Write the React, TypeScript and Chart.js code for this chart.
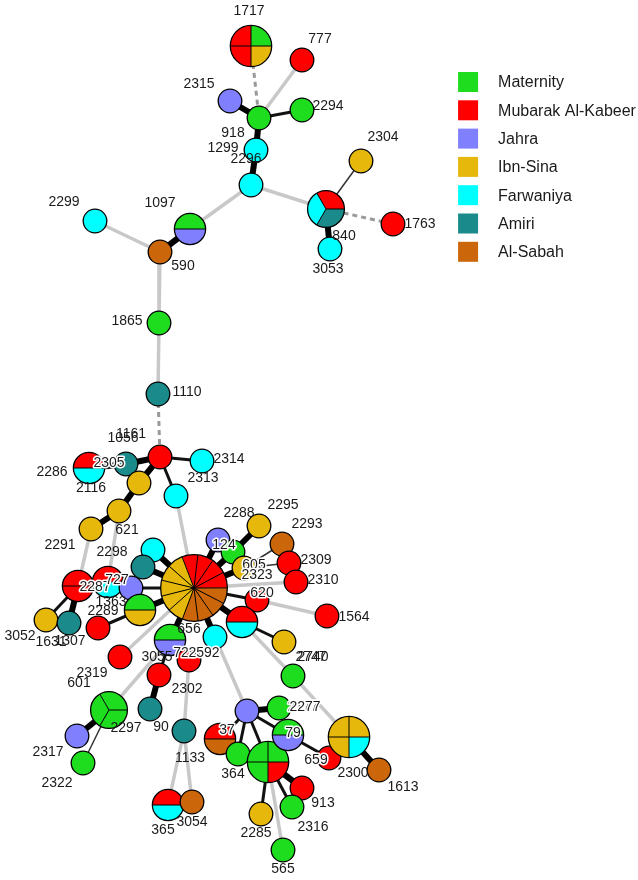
import React, { useEffect, useRef } from 'react';
import { Chart, registerables } from 'chart.js';
Chart.register(...registerables);

// ---------- DATA ----------
const categories = ['Maternity', 'Mubarak Al-Kabeer', 'Jahra', 'Ibn-Sina', 'Farwaniya', 'Amiri', 'Al-Sabah'];
const categoryColors = ['#1EDC1E', '#FF0000', '#8080FF', '#E6B80C', '#00FFFF', '#1A8A8A', '#CC660A'];

// node keys, layout coordinates, and hospital of each isolate in the node
const nodeKeys = [
  '1717', '777', '2315', '918', '2294', '1299', '2296', '840', '2304', '1763',
  '3053', '1097', '590', '2299', '1865', '1110', '1161', '2305', '2286', '2314',
  '2313', 'g1', '621', 'g3', 'hub', '2287', '727', '1363', 'c1', 't1',
  'gg', '2289', '3052', '1307', '124', 'm124', '2295', '2293', '2309', '2310',
  '605', '620', '1564', 'rc', '2747', 'm2747', 'c592', '656', '725', 'r2319',
  '3055', '90', '1133', '2297', '2317', '2322', '365', '3054', 'p', '2277',
  '37', '364', 'bg', '79', '659', '2300', '1613', '913', '2316', '2285', '565',
];
const nodeX = [
  251, 302, 230, 259, 302, 256, 251, 326, 361, 393,
  330, 190, 160, 95, 159, 158, 160, 126, 89, 202,
  176, 139, 119, 91, 194, 78, 108, 131, 153, 143,
  140, 98, 46, 69, 218, 233, 259, 282, 289, 296,
  244, 257, 327, 242, 284, 293, 215, 170, 189, 120,
  159, 150, 184, 109, 77, 83, 168, 192, 247, 279,
  220, 238, 268, 288, 329, 349, 379, 302, 292, 261, 283,
];
const nodeY = [
  46, 60, 101, 118, 110, 150, 185, 209, 161, 224,
  249, 229, 252, 221, 323, 394, 457, 464, 468, 461,
  496, 483, 511, 529, 588, 586, 582, 588, 550, 567,
  610, 628, 620, 623, 540, 552, 526, 544, 563, 582,
  568, 600, 616, 622, 642, 676, 637, 640, 660, 657,
  675, 709, 731, 710, 736, 763, 805, 802, 711, 708,
  739, 754, 762, 735, 758, 737, 770, 788, 807, 814, 850,
];
const nodeIsolates: number[][] = [
  [0, 3, 1, 1], [1], [2], [0], [0], [4], [4], [5, 4, 1], [3], [1],
  [4], [2, 0], [6], [4], [0], [5], [1], [5], [4, 1], [4],
  [4], [3], [3], [3], [1, 1, 1, 1, 6, 6, 6, 6, 3, 3, 3, 3, 3], [1, 1], [4, 1], [2], [4], [5],
  [3, 0], [1], [3], [5], [2], [0], [3], [6], [1], [1],
  [3], [1], [1], [4, 1], [3], [0], [4], [2, 0], [1], [1],
  [1], [5], [5], [0, 0, 0], [2], [0], [4, 1], [6], [2], [0],
  [6, 1], [0], [0, 1, 0, 0], [2, 0], [1], [3, 4, 3, 3], [6], [1], [0], [3], [0],
];

// edges: from, to, link type
const edgeFrom = [
  '1717', '777', '2315', '918', '918', '1299', '2296', '2296', '840', '840',
  '840', '1097', '590', '590', '1865', '1110', '1161', '2305', '1161', 'g1',
  '621', '1161', '1161', '2313', 'g3', '621', '2287', '2287', '2287', 'hub',
  '1363', 'hub', 'hub', 'hub', 'gg', 'hub', 'hub', 'm124', 'hub', '605',
  '605', 'hub', 'hub', '620', 'hub', 'rc', 'rc', 'm2747', 'hub', 'hub',
  '656', '656', 'hub', '656', '3055', '725', '1133', '1133', '2297', '2297',
  'c592', 'p', 'p', 'p', 'p', 'p', '79', '659', '2300', 'bg',
  'bg', 'bg', 'bg',
];
const edgeTo = [
  '918', '918', '918', '2294', '1299', '2296', '1097', '840', '2304', '1763',
  '3053', '590', '2299', '1865', '1110', '1161', '2305', '2286', 'g1', '621',
  'g3', '2314', '2313', 'hub', '2287', '727', '727', '3052', '1307', '1363',
  '727', 'c1', 't1', 'gg', '2289', '124', 'm124', '2295', '605', '2293',
  '2309', '2310', '620', '1564', 'rc', '2747', 'm2747', '2300', 'c592', '656',
  '725', '3055', 'r2319', '2297', '90', '1133', '365', '3054', '2317', '2322',
  'p', '2277', '37', '364', 'bg', '79', '659', '2300', '1613', '913',
  '2316', '2285', '565',
];
const edgeKind = [
  'dashed', 'far', 'strong', 'medium', 'strong', 'strong', 'far', 'far', 'weak', 'dashed',
  'strong', 'strong', 'far', 'far', 'far', 'dashed', 'strong', 'strong', 'strong', 'strong',
  'strong', 'medium', 'medium', 'far', 'far', 'far', 'strong', 'medium', 'strong', 'medium',
  'medium', 'strong', 'strong', 'strong', 'medium', 'strong', 'strong', 'strong', 'strong', 'weak',
  'weak', 'far', 'medium', 'far', 'strong', 'medium', 'far', 'far', 'strong', 'strong',
  'weak', 'medium', 'far', 'far', 'strong', 'far', 'far', 'far', 'strong', 'weak',
  'far', 'strong', 'medium', 'medium', 'medium', 'medium', 'medium', 'medium', 'strong', 'strong',
  'medium', 'medium', 'far',
];

// node labels
const labelText = [
  '1717', '777', '2315', '2294', '918', '1299', '2296', '2304', '840', '1763',
  '3053', '1097', '590', '2299', '1865', '1110', '1161', '1056', '2305', '2286',
  '2116', '2314', '2313', '621', '2291', '2298', '2287', '727', '1363', '2289',
  '3052', '1631', '1307', '124', '2288', '2295', '2293', '2309', '2310', '605',
  '2323', '620', '1564', '2740', '2747', '656', '725', '2592', '3055', '2302',
  '2319', '601', '2297', '90', '1133', '2317', '2322', '365', '3054', '2177',
  '2277', '37', '79', '364', '659', '2300', '1613', '913', '2316', '2285', '565',
];
const labelX = [
  249, 320, 199, 328, 233, 223, 246, 383, 344, 420,
  328, 160, 183, 64, 127, 187, 131, 123, 109, 52,
  91, 229, 203, 127, 60, 112, 95, 117, 111, 103,
  20, 51, 70, 224, 239, 283, 307, 316, 323, 254,
  257, 262, 354, 313, 311, 189, 185, 204, 157, 187,
  92, 79, 126, 161, 190, 48, 57, 163, 192, 303,
  305, 227, 293, 233, 316, 353, 403, 323, 313, 256, 283,
];
const labelY = [
  11, 39, 84, 106, 133, 148, 159, 137, 236, 224,
  269, 203, 266, 202, 321, 392, 434, 438, 463, 472,
  488, 459, 478, 530, 545, 552, 587, 580, 602, 611,
  636, 642, 641, 545, 513, 505, 524, 560, 580, 565,
  575, 593, 617, 657, 657, 629, 653, 653, 657, 689,
  673, 683, 728, 727, 758, 752, 783, 830, 822, 707,
  707, 730, 733, 774, 760, 773, 787, 803, 827, 833, 869,
];
const labelHalo = [
  0, 0, 0, 0, 0, 0, 0, 0, 0, 0,
  0, 0, 0, 0, 0, 0, 0, 0, 1, 0,
  0, 0, 0, 0, 0, 0, 1, 1, 0, 0,
  0, 0, 0, 1, 0, 0, 0, 0, 0, 1,
  1, 1, 0, 0, 0, 0, 1, 1, 0, 0,
  0, 0, 0, 0, 0, 0, 0, 0, 0, 1,
  1, 1, 1, 0, 1, 0, 0, 0, 0, 0, 0,
];

// ---------- STYLES ----------
const edgeStyles: Record<string, { color: string; width: number; dash: number[] }> = {
  strong: { color: '#000000', width: 6, dash: [] },
  medium: { color: '#111111', width: 3, dash: [] },
  weak: { color: '#333333', width: 1.5, dash: [] },
  far: { color: '#C8C8C8', width: 3.5, dash: [] },
  dashed: { color: '#9A9A9A', width: 3, dash: [5, 4] },
};
const FONT = '"Liberation Sans", Arial, Helvetica, sans-serif';

function radiusFor(n: number) {
  return 11.8 * Math.pow(n, 0.405);
}
function startAngleFor(n: number) {
  if (n === 4) return -90;
  if (n > 4) return -111;
  return 0;
}

const netPlugin = {
  id: 'netPlugin',
  afterDatasetsDraw(chart: any) {
    const ctx = chart.ctx as CanvasRenderingContext2D;
    const meta = chart.getDatasetMeta(0);
    ctx.save();
    meta.data.forEach((el: any, i: number) => {
      const iso = nodeIsolates[i];
      const n = iso.length;
      const r = radiusFor(n);
      const cx = el.x;
      const cy = el.y;
      const step = (Math.PI * 2) / n;
      const a0 = (startAngleFor(n) * Math.PI) / 180;
      for (let k = 0; k < n; k++) {
        ctx.beginPath();
        if (n > 1) ctx.moveTo(cx, cy);
        ctx.arc(cx, cy, r, a0 + k * step, a0 + (k + 1) * step);
        ctx.closePath();
        ctx.fillStyle = categoryColors[iso[k]];
        ctx.fill();
      }
      ctx.strokeStyle = '#000';
      ctx.lineWidth = 1;
      if (n > 1) {
        for (let k = 0; k < n; k++) {
          const a = a0 + k * step;
          ctx.beginPath();
          ctx.moveTo(cx, cy);
          ctx.lineTo(cx + r * Math.cos(a), cy + r * Math.sin(a));
          ctx.stroke();
        }
      }
      ctx.lineWidth = 1.3;
      ctx.beginPath();
      ctx.arc(cx, cy, r, 0, Math.PI * 2);
      ctx.stroke();
    });

    // labels
    const xs = chart.scales.x;
    const ys = chart.scales.y;
    ctx.font = `14px ${FONT}`;
    ctx.textAlign = 'center';
    ctx.textBaseline = 'middle';
    labelText.forEach((t, i) => {
      const px = xs.getPixelForValue(labelX[i]);
      const py = ys.getPixelForValue(labelY[i]);
      if (labelHalo[i]) {
        ctx.lineWidth = 3;
        ctx.strokeStyle = '#FFFFFF';
        ctx.lineJoin = 'round';
        ctx.strokeText(t, px, py);
      }
      ctx.fillStyle = '#1A1A1A';
      ctx.fillText(t, px, py);
    });

    // legend
    const area = chart.chartArea;
    const lx = area.left + area.width * 0.718;
    const ly = area.top + 72;
    ctx.font = `16px ${FONT}`;
    ctx.textAlign = 'left';
    categories.forEach((c, i) => {
      const y = ly + i * 28.3;
      ctx.fillStyle = categoryColors[i];
      ctx.fillRect(lx, y, 20, 20);
      ctx.fillStyle = '#1A1A1A';
      ctx.fillText(c, lx + 40, y + 11);
    });
    ctx.restore();
  },
};

export default function App() {
  const ref = useRef<HTMLCanvasElement | null>(null);
  useEffect(() => {
    if (!ref.current) return;
    const idx = (k: string) => nodeKeys.indexOf(k);
    const nodeData = nodeKeys.map((_, i) => ({ x: nodeX[i], y: nodeY[i] }));
    const edgeSets = edgeFrom.map((f, i) => {
      const a = idx(f);
      const b = idx(edgeTo[i]);
      const st = edgeStyles[edgeKind[i]];
      return {
        type: 'line' as const,
        data: [
          { x: nodeX[a], y: nodeY[a] },
          { x: nodeX[b], y: nodeY[b] },
        ],
        showLine: true,
        borderColor: st.color,
        borderWidth: st.width,
        borderDash: st.dash,
        borderCapStyle: 'butt' as const,
        pointRadius: 0,
        pointHoverRadius: 0,
        fill: false,
        tension: 0,
        order: 1,
      };
    });
    const chart = new Chart(ref.current, {
      type: 'scatter',
      data: {
        datasets: [
          {
            data: nodeData,
            pointRadius: nodeIsolates.map((s) => radiusFor(s.length)),
            pointBackgroundColor: 'rgba(0,0,0,0)',
            pointBorderWidth: 0,
            pointBorderColor: 'rgba(0,0,0,0)',
            order: 0,
            clip: false,
          } as any,
          ...(edgeSets as any[]),
        ],
      },
      options: {
        animation: false,
        responsive: true,
        maintainAspectRatio: false,
        layout: { padding: 0, autoPadding: false } as any,
        events: [],
        plugins: { legend: { display: false }, tooltip: { enabled: false } },
        scales: {
          x: { type: 'linear', min: 0, max: 638, display: false },
          y: { type: 'linear', min: 0, max: 880, reverse: true, display: false },
        },
      },
      plugins: [netPlugin],
    });
    return () => chart.destroy();
  }, []);
  return (
    <div style={{ position: 'fixed', left: 0, top: 0, width: 638, height: 880, background: '#fff' }}>
      <canvas ref={ref} />
    </div>
  );
}
